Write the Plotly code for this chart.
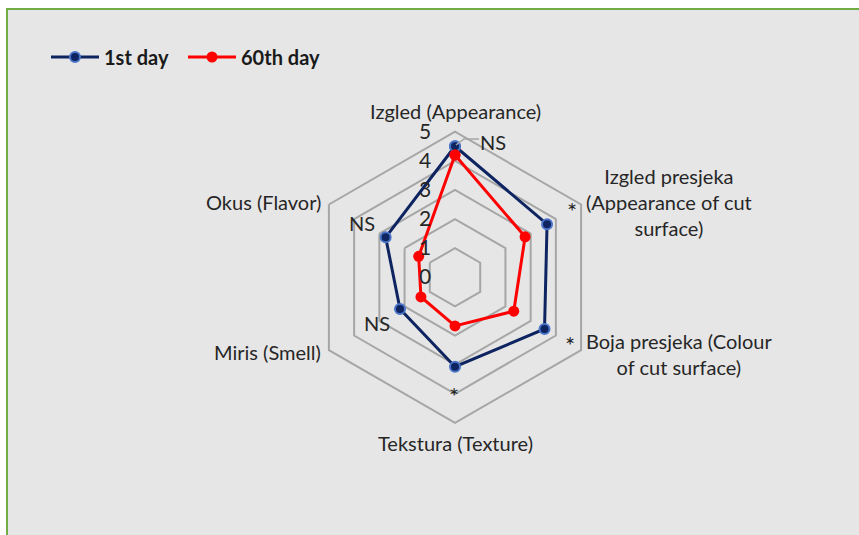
import plotly.graph_objects as go

# ---------------- data ----------------
categories = [
    "Izgled (Appearance)",
    "Izgled presjeka (Appearance of cut surface)",
    "Boja presjeka (Colour of cut surface)",
    "Tekstura (Texture)",
    "Miris (Smell)",
    "Okus (Flavor)",
]
day1_values = [4.5, 3.65, 3.55, 3.07, 2.18, 2.75]
day60_values = [4.2, 2.78, 2.33, 1.67, 1.35, 1.44]
significance = ["NS", "*", "*", "*", "NS", "NS"]
radial_ticks = [0, 1, 2, 3, 4, 5]
series_names = ["1st day", "60th day"]

# ---------------- layout helpers ----------------
W, H = 859, 535
def px(x):
    return x / W
def py(y):
    return 1 - y / H

FONT = "Lato, 'Open Sans', sans-serif"
TXT = "#262626"

# display text / positions of the category labels (pixels)
cat_label_text = [
    "Izgled (Appearance)",
    "Izgled presjeka<br>(Appearance of cut<br>surface)",
    "Boja presjeka (Colour<br>of cut surface)",
    "Tekstura (Texture)",
    "Miris (Smell)",
    "Okus (Flavor)",
]
cat_label_pos = [(455, 111, "center"), (669, 202, "center"), (679, 354, "center"),
                 (455, 443, "center"), (323, 352, "right"), (323, 202, "right")]
sig_pos = [(493, 142), (572, 210), (570, 344), (454, 395), (377, 323), (362, 223)]

cx, cy, R = 455, 277.3, 145.6

fig = go.Figure()

theta_closed = categories + categories[:1]
fig.add_trace(go.Scatterpolar(
    r=day1_values + day1_values[:1], theta=theta_closed,
    mode="lines+markers", name="<b>" + series_names[0] + "</b>",
    line=dict(color="#0d2461", width=3),
    marker=dict(size=10, color="#0d2461", line=dict(color="#4a74c8", width=2)),
))
fig.add_trace(go.Scatterpolar(
    r=day60_values + day60_values[:1], theta=theta_closed,
    mode="lines+markers", name="<b>" + series_names[1] + "</b>",
    line=dict(color="#ff0000", width=3),
    marker=dict(size=11, color="#ff0000"),
))

annotations = []
for txt, (x, y, anc) in zip(cat_label_text, cat_label_pos):
    annotations.append(dict(
        x=px(x), y=py(y), xref="paper", yref="paper", text=txt, showarrow=False,
        xanchor=anc, yanchor="middle", align="center",
        font=dict(family=FONT, size=20, color=TXT),
    ))
for s, (x, y) in zip(significance, sig_pos):
    annotations.append(dict(
        x=px(x), y=py(y), xref="paper", yref="paper", text=s, showarrow=False,
        xanchor="center", yanchor="middle",
        font=dict(family=FONT, size=20 if s == "NS" else 24, color=TXT),
    ))

shapes = [
    dict(type="rect", xref="paper", yref="paper", layer="below",
         x0=px(7), x1=1.02, y0=-0.02, y1=py(9),
         fillcolor="#e6e6e6", line=dict(color="#70ad47", width=2)),
    # leader line from NS label to the appearance point
    dict(type="path", xref="paper", yref="paper", layer="above",
         path=f"M{px(456)},{py(145)} L{px(464)},{py(139)} L{px(479)},{py(139)}",
         line=dict(color="#a6a6a6", width=1.5)),
]

fig.update_layout(
    width=W, height=H,
    margin=dict(l=0, r=0, t=0, b=0),
    paper_bgcolor="white",
    font=dict(family=FONT, color=TXT),
    showlegend=True,
    legend=dict(orientation="h", x=px(46), y=py(57), xanchor="left", yanchor="middle",
                font=dict(family=FONT, size=20, color="#1a1a1a"),
                bgcolor="rgba(0,0,0,0)", itemwidth=48, tracegroupgap=0,
                entrywidth=74, entrywidthmode="pixels"),
    polar=dict(
        domain=dict(x=[px(cx - R), px(cx + R)], y=[py(cy + R), py(cy - R)]),
        bgcolor="rgba(0,0,0,0)",
        gridshape="linear",
        radialaxis=dict(
            range=[0, 5], tickvals=radial_ticks, angle=90, tickangle=90,
            showline=False, showgrid=True, gridcolor="#a6a6a6", gridwidth=2,
            ticks="outside", ticklen=16, tickcolor="rgba(0,0,0,0)",
            side="counterclockwise",
            tickfont=dict(family=FONT, size=21, color=TXT),
        ),
        angularaxis=dict(
            direction="clockwise", rotation=90,
            showgrid=False, showline=True, linecolor="#a6a6a6", linewidth=2,
            showticklabels=False, ticks="",
        ),
    ),
    annotations=annotations,
    shapes=shapes,
)

fig.write_html("out.html", config={"displayModeBar": False},
               post_script="document.body.style.margin='0';")
